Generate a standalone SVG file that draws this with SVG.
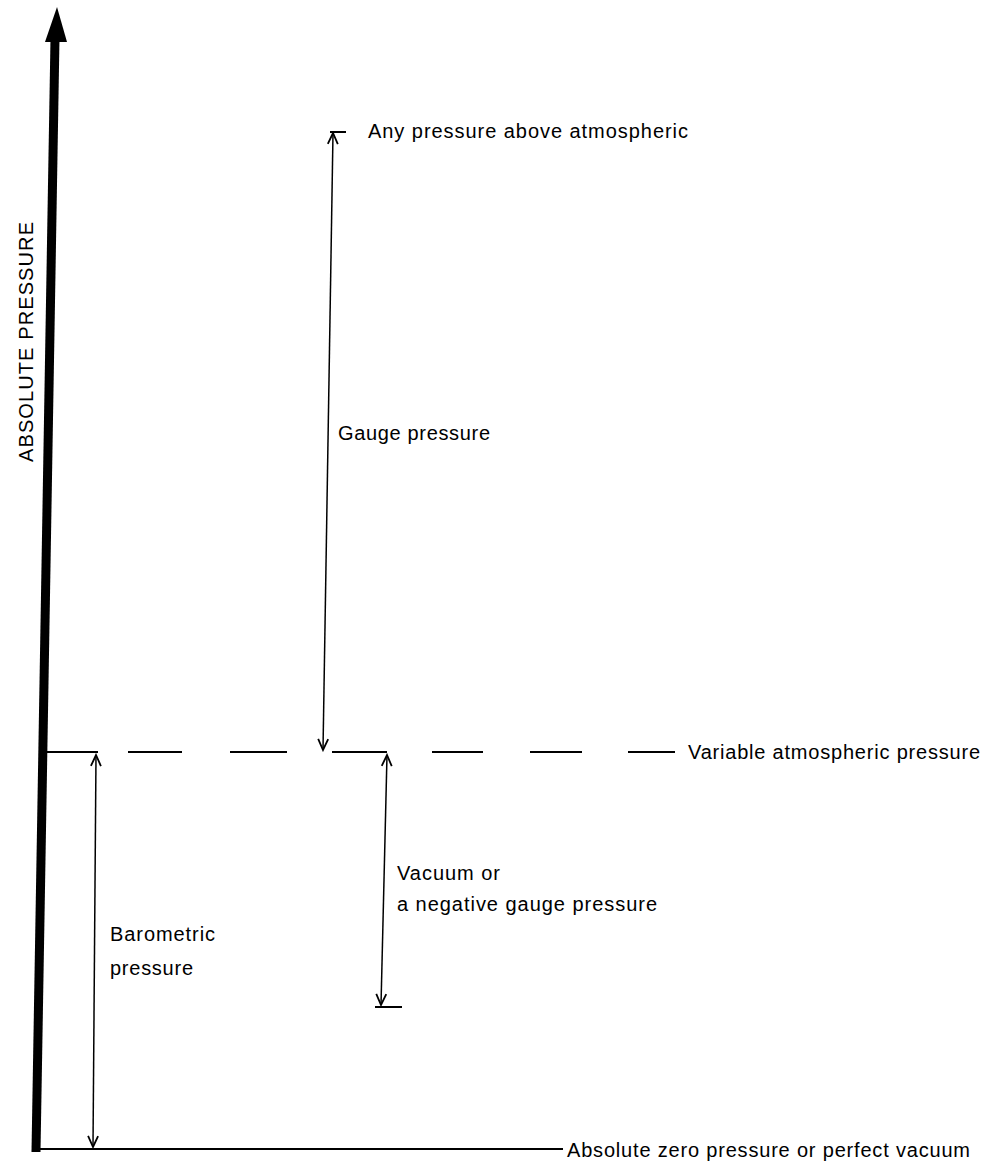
<svg xmlns="http://www.w3.org/2000/svg" width="988" height="1167" viewBox="0 0 988 1167">
<style>
text{font-family:"Liberation Sans",Arial,sans-serif;font-size:20px;fill:#000}
.ln{stroke:#000;stroke-width:2;fill:none}
.dim{stroke:#000;stroke-width:1.5;fill:none;marker-start:url(#oa);marker-end:url(#oa)}
</style>
<defs>
<marker id="oa" markerWidth="14" markerHeight="14" refX="0" refY="0" viewBox="-12 -7 14 14" orient="auto-start-reverse" markerUnits="userSpaceOnUse">
<path d="M-11,-5 L0,0 L-11,5" fill="none" stroke="#000" stroke-width="1.8"/>
</marker>
</defs>
<g id="axis">
<line x1="36" y1="1152" x2="55" y2="38" stroke="#000" stroke-width="9"/>
<polygon points="57,7 67,42 45,42" fill="#000"/>
<text transform="translate(33,462) rotate(-90)" textLength="240" lengthAdjust="spacing">ABSOLUTE PRESSURE</text>
</g>
<g id="connectors">
<line class="ln" x1="330" y1="132" x2="346" y2="132"/>
<line class="ln" x1="40" y1="752" x2="98" y2="752"/>
<line class="ln" x1="128" y1="752" x2="182" y2="752"/>
<line class="ln" x1="230" y1="752" x2="287" y2="752"/>
<line class="ln" x1="332" y1="752" x2="387" y2="752"/>
<line class="ln" x1="432" y1="752" x2="483" y2="752"/>
<line class="ln" x1="530" y1="752" x2="582" y2="752"/>
<line class="ln" x1="628" y1="752" x2="675" y2="752"/>
<line class="ln" x1="375" y1="1007" x2="402" y2="1007"/>
<line class="ln" x1="36" y1="1149" x2="563" y2="1149"/>
<line class="dim" x1="333" y1="133" x2="323" y2="750"/>
<line class="dim" x1="96" y1="755" x2="93" y2="1147"/>
<line class="dim" x1="387" y1="755" x2="381" y2="1005"/>
</g>
<g id="label-above">
<text x="368" y="138" textLength="320" lengthAdjust="spacing">Any pressure above atmospheric</text>
</g>
<g id="label-gauge">
<text x="338" y="440" textLength="152" lengthAdjust="spacing">Gauge pressure</text>
</g>
<g id="label-atmospheric">
<text x="688" y="759" textLength="292" lengthAdjust="spacing">Variable atmospheric pressure</text>
</g>
<g id="label-vacuum">
<text x="397" y="880" textLength="103" lengthAdjust="spacing">Vacuum or</text>
<text x="397" y="911" textLength="260" lengthAdjust="spacing">a negative gauge pressure</text>
</g>
<g id="label-barometric">
<text x="110" y="941" textLength="105" lengthAdjust="spacing">Barometric</text>
<text x="110" y="975" textLength="83" lengthAdjust="spacing">pressure</text>
</g>
<g id="label-zero">
<text x="567" y="1157" textLength="403" lengthAdjust="spacing">Absolute zero pressure or perfect vacuum</text>
</g>
</svg>
